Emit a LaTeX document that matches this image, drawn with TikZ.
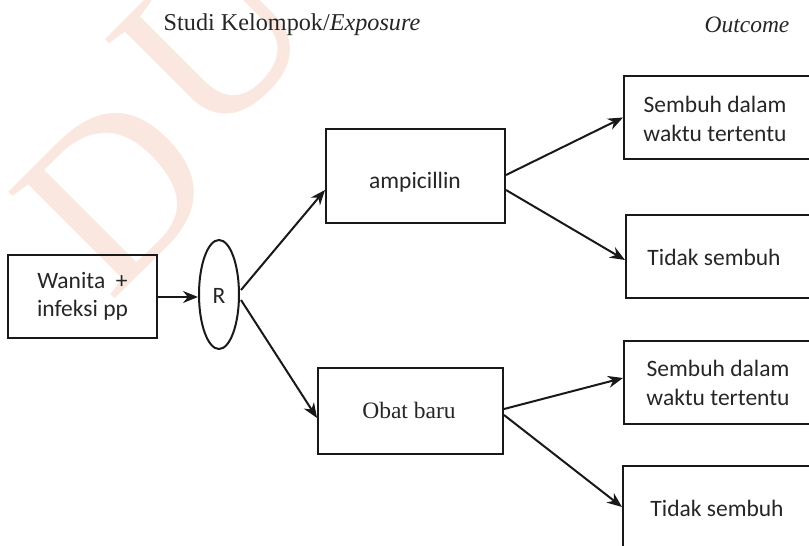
\documentclass[tikz,border=0pt]{standalone}
\usepackage{fontspec}
\setmainfont{Liberation Serif}
\newfontfamily\sanf{Carlito}
\usetikzlibrary{shapes.geometric,arrows.meta,calc}
\definecolor{wmcol}{RGB}{250,232,224}
\tikzset{
  box/.style={draw=black!90, line width=2pt, rectangle, inner sep=0pt},
  sanstext/.style={font=\sanf\fontsize{23.5}{28.5}\selectfont, align=center, text=black!85, inner sep=0pt},
  seriftext/.style={font=\fontsize{24.2}{29}\selectfont, text=black!85, inner sep=0pt},
  conn/.style={line width=2pt, draw=black!90, -{Stealth[length=15pt,width=12pt]}},
  wm/.style={font=\fontsize{230}{230}\selectfont, text=wmcol, inner sep=0pt, rotate=45}
}
\begin{document}
\begin{tikzpicture}[x=1pt,y=-1pt]
\useasboundingbox (0,0) rectangle (809,546);
\clip (0,0) rectangle (809,546);
% watermark
\node[wm] (wmD) at (116,192) {D};
\node[wm] (wmU) at (215,38) {U};
% headings
\node[seriftext] (h1) at (292,25) {Studi Kelompok/\textit{Exposure}};
\node[seriftext, font=\fontsize{23.5}{29}\selectfont] (h2) at (747,25) {\textit{Outcome}};
% left
\node[box, minimum width=149pt, minimum height=83pt, sanstext] (wan) at (82.5,296.5) {Wanita~~+\\infeksi pp};
\node[draw=black!90, line width=2pt, ellipse, minimum width=40pt, minimum height=109pt, inner sep=0pt] (R) at (219,294.5) {};
\node[sanstext] (Rt) at (219,296) {R};
% middle
\node[box, minimum width=179pt, minimum height=94pt] (amp) at (415.5,176) {};
\node[sanstext] (ampt) at (415,182) {ampicillin};
\node[box, minimum width=185pt, minimum height=86pt] (obat) at (410.5,411) {};
\node[seriftext, font=\fontsize{23.5}{29}\selectfont] (obatt) at (409,410) {Obat baru};
% right boxes
\node[box, anchor=west, minimum width=220pt, minimum height=83pt] (o1) at (623,117.5) {};
\node[sanstext] (o1t) at (715,119) {Sembuh dalam\\waktu tertentu};
\node[box, anchor=west, minimum width=220pt, minimum height=83pt] (o2) at (625,256.5) {};
\node[sanstext] (o2t) at (714,257) {Tidak sembuh};
\node[box, anchor=west, minimum width=220pt, minimum height=83pt] (o3) at (623,382.5) {};
\node[sanstext] (o3t) at (718,383) {Sembuh dalam\\waktu tertentu};
\node[box, anchor=west, minimum width=220pt, minimum height=83pt] (o4) at (622,507.5) {};
\node[sanstext] (o4t) at (717,508) {Tidak sembuh};
% connectors
\draw[conn] ($(wan.east)+(0,0.5)$) -- ($(wan.east -| R.west)+(0,0.5)$);
\draw[conn] ($(R.east)+(1,-4.5)$) -- ($(amp.west)+(0,14)$);
\draw[conn] ($(R.east)+(1,5.5)$) -- ($(obat.west)+(0,7)$);
\draw[conn] ($(amp.east)+(0,-1)$) -- (o1.west);
\draw[conn] ($(amp.east)+(0,14)$) -- ($(o2.west)+(0,3.5)$);
\draw[conn] ($(obat.east)+(0,-2)$) -- ($(o3.west)+(0,-4.5)$);
\draw[conn] ($(obat.east)+(0,4)$) -- ($(o4.west)+(0,-0.5)$);
\end{tikzpicture}
\end{document}
